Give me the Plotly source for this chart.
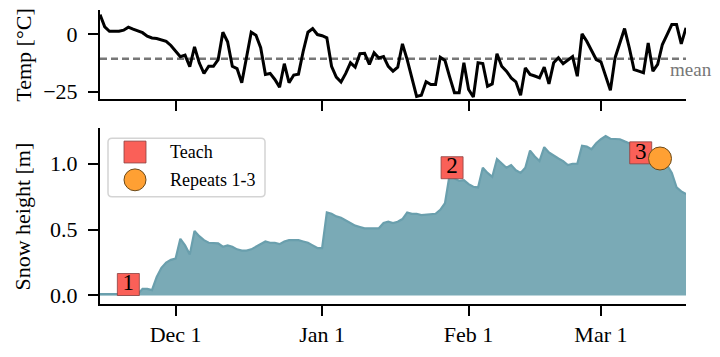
import pandas as pd
import plotly.graph_objects as go

# ---------------- data ----------------
start_date = "2022-11-15"
temp_c = [
    8.3, 3.0, 1.1, 1.0, 1.1, 1.6, 2.9, 2.0, 1.3, 0.5,
    -1.0, -1.8, -2.0, -2.5, -3.2, -5.0, -7.5, -9.9, -9.2, -14.2,
    -5.6, -12.5, -17.1, -14.0, -14.0, -11.1, 0.7, -3.4, -14.0, -15.0,
    -21.1, -10.0, 0.7, -0.6, -6.0, -17.5, -17.1, -19.7, -23.0, -12.9,
    -21.1, -17.8, -17.4, -7.5, 0.7, 2.3, -0.3, -0.8, -1.7, -14.0,
    -18.7, -20.8, -17.1, -12.5, -14.4, -8.6, -8.4, -13.2, -8.2, -10.4,
    -9.8, -14.0, -16.1, -14.4, -4.3, -11.1, -19.0, -27.0, -26.5, -20.7,
    -21.9, -21.9, -10.1, -11.5, -18.7, -25.4, -25.4, -12.5, -24.0, -27.3,
    -12.5, -12.8, -22.6, -21.6, -8.6, -14.0, -16.1, -19.0, -20.7, -26.5,
    -14.7, -17.5, -18.2, -19.0, -14.4, -21.6, -12.5, -10.3, -12.9, -11.5,
    -9.8, -18.3, 0.0, -3.2, -7.5, -11.1, -12.1, -18.3, -24.4, -10.3,
    -3.9, 2.3, -6.0, -15.4, -16.1, -16.8, -3.9, -16.1, -13.2, -4.6,
    -0.3, 4.0, 4.0, -4.3, 2.6,
]
snow_m = [
    0.01, 0.01, 0.01, 0.01, 0.01, 0.01, 0.01, 0.01, 0.01, 0.05,
    0.05, 0.04, 0.14, 0.21, 0.25, 0.27, 0.28, 0.43, 0.38, 0.31,
    0.49, 0.45, 0.42, 0.40, 0.40, 0.395, 0.37, 0.38, 0.37, 0.35,
    0.34, 0.34, 0.35, 0.37, 0.39, 0.41, 0.40, 0.40, 0.39, 0.41,
    0.42, 0.42, 0.42, 0.41, 0.40, 0.38, 0.36, 0.36, 0.63, 0.62,
    0.60, 0.59, 0.57, 0.55, 0.53, 0.52, 0.51, 0.51, 0.51, 0.51,
    0.55, 0.56, 0.55, 0.56, 0.58, 0.63, 0.62, 0.62, 0.61, 0.615,
    0.62, 0.62, 0.65, 0.70, 0.92, 0.89, 0.87, 0.875, 0.845, 0.825,
    0.82, 0.97, 0.93, 0.90, 1.035, 1.00, 0.97, 0.99, 0.95, 0.93,
    0.97, 1.10, 1.055, 1.02, 1.126, 1.085, 1.06, 1.04, 1.02, 0.99,
    1.0, 1.0, 1.136, 1.13, 1.11, 1.156, 1.186, 1.21, 1.19, 1.19,
    1.186, 1.17, 1.155, 1.09, 1.06, 1.055, 1.05, 1.045, 1.04, 1.03,
    0.99, 0.93, 0.82, 0.79, 0.77,
]
mean_temp = -10.8

teach_dates = ["2022-11-21 00:00", "2023-01-28 12:00", "2023-03-09 10:00"]
teach_heights = [0.083, 0.97, 1.083]
teach_labels = ["1", "2", "3"]

repeat_dates = ["2023-03-13 12:00"]
repeat_heights = [1.04]

tick_dates = ["2022-12-01", "2023-01-01", "2023-02-01", "2023-03-01"]
tick_labels = ["Dec 1", "Jan 1", "Feb 1", "Mar 1"]

dates = pd.date_range(start_date, periods=len(temp_c), freq="D")

# ---------------- styling ----------------
FONT = "Liberation Serif"
TEACH_COLOR = "#fa6058"
TEACH_EDGE = "#8a4040"
REPEAT_COLOR = "#ffa033"
REPEAT_EDGE = "#6b4a1a"
FILL = "#7aaab6"
FILL_LINE = "#6a9fad"

W, H = 720, 357
ML, MR, MT, MB = 100, 34, 10, 51
PW, PH = W - ML - MR, H - MT - MB


def px(xp):
    return (xp - ML) / PW


def py(yp):
    return (MT + PH - yp) / PH


fig = go.Figure()

# temperature
fig.add_trace(go.Scatter(x=dates, y=temp_c, mode="lines",
                         line=dict(color="black", width=3),
                         xaxis="x2", yaxis="y2", showlegend=False, hoverinfo="skip"))

# snow height
fig.add_trace(go.Scatter(x=dates, y=snow_m, mode="lines", fill="tozeroy",
                         fillcolor=FILL, line=dict(color=FILL_LINE, width=2.2),
                         xaxis="x", yaxis="y", showlegend=False, hoverinfo="skip"))

# teach markers
fig.add_trace(go.Scatter(x=pd.to_datetime(teach_dates), y=teach_heights,
                         mode="markers+text", text=teach_labels,
                         textposition="middle center",
                         textfont=dict(family=FONT, size=23, color="black"),
                         marker=dict(symbol="square", size=22, color=TEACH_COLOR,
                                     line=dict(color=TEACH_EDGE, width=0.8)),
                         xaxis="x", yaxis="y", showlegend=False, cliponaxis=False))

# repeat markers
fig.add_trace(go.Scatter(x=pd.to_datetime(repeat_dates), y=repeat_heights,
                         mode="markers",
                         marker=dict(symbol="circle", size=23, color=REPEAT_COLOR,
                                     line=dict(color=REPEAT_EDGE, width=1)),
                         xaxis="x", yaxis="y", showlegend=False, cliponaxis=False))

axis_common = dict(showline=True, linecolor="black", linewidth=2, ticks="outside",
                   ticklen=10, tickwidth=2, tickcolor="black", showgrid=False,
                   zeroline=False, tickfont=dict(family=FONT, size=22, color="black"))

x_range = [dates[0], dates[-1]]

fig.update_layout(
    width=W, height=H,
    margin=dict(l=ML, r=MR, t=MT, b=MB),
    paper_bgcolor="white", plot_bgcolor="white",
    font=dict(family=FONT, size=22, color="black"),
    xaxis=dict(type="date", range=x_range, tickvals=pd.to_datetime(tick_dates),
               ticktext=tick_labels, anchor="y", **axis_common),
    xaxis2=dict(type="date", range=x_range, tickvals=pd.to_datetime(tick_dates),
                showticklabels=False, anchor="y2", matches="x", **axis_common),
    yaxis=dict(domain=[0, py(129)], range=[-0.065, 1.27], tickvals=[0, 0.5, 1.0],
               ticktext=["0.0", "0.5", "1.0"], anchor="x", ticklabelstandoff=6,
               **axis_common),
    yaxis2=dict(domain=[py(100), 1], range=[-28.3, 10.3], tickvals=[0, -25],
                ticktext=["0", "\u221225"], anchor="x2", ticklabelstandoff=6,
                **axis_common),
)

shapes = []
# mean line
shapes.append(dict(type="line", xref="x2 domain", yref="y2", x0=0, x1=1,
                   y0=mean_temp, y1=mean_temp,
                   line=dict(color="#777777", width=2.5, dash="7px,4px"), layer="below"))

# legend box (rounded)
bx0, bx1, by0, by1 = 108, 265, 139, 198
r = 4
path = (f"M {px(bx0 + r)},{py(by0)} L {px(bx1 - r)},{py(by0)} "
        f"Q {px(bx1)},{py(by0)} {px(bx1)},{py(by0 + r)} "
        f"L {px(bx1)},{py(by1 - r)} Q {px(bx1)},{py(by1)} {px(bx1 - r)},{py(by1)} "
        f"L {px(bx0 + r)},{py(by1)} Q {px(bx0)},{py(by1)} {px(bx0)},{py(by1 - r)} "
        f"L {px(bx0)},{py(by0 + r)} Q {px(bx0)},{py(by0)} {px(bx0 + r)},{py(by0)} Z")
shapes.append(dict(type="path", xref="paper", yref="paper", path=path,
                   fillcolor="rgba(255,255,255,0.85)",
                   line=dict(color="#d4d4d4", width=1.5)))
shapes.append(dict(type="rect", xref="paper", yref="paper",
                   x0=px(124), x1=px(146), y0=py(164), y1=py(142),
                   fillcolor=TEACH_COLOR, line=dict(color=TEACH_EDGE, width=0.8)))
shapes.append(dict(type="circle", xref="paper", yref="paper",
                   x0=px(124), x1=px(146), y0=py(192), y1=py(170),
                   fillcolor=REPEAT_COLOR, line=dict(color=REPEAT_EDGE, width=1)))

annotations = [
    dict(text="Teach", xref="paper", yref="paper", x=px(168), y=py(153),
         xanchor="left", yanchor="middle", showarrow=False,
         font=dict(family=FONT, size=18, color="black")),
    dict(text="Repeats 1-3", xref="paper", yref="paper", x=px(168), y=py(181),
         xanchor="left", yanchor="middle", showarrow=False,
         font=dict(family=FONT, size=18, color="black")),
    dict(text="mean", xref="paper", yref="y2", x=px(668), y=-15.6,
         xanchor="left", yanchor="middle", showarrow=False,
         font=dict(family=FONT, size=19, color="#777777")),
    dict(text="Temp [°C]", xref="paper", yref="paper", x=px(24), y=py(56),
         xanchor="center", yanchor="middle", textangle=-90, showarrow=False,
         font=dict(family=FONT, size=22, color="black")),
    dict(text="Snow height [m]", xref="paper", yref="paper", x=px(23), y=py(218),
         xanchor="center", yanchor="middle", textangle=-90, showarrow=False,
         font=dict(family=FONT, size=22, color="black")),
]

fig.update_layout(shapes=shapes, annotations=annotations)
fig.write_html("out.html")
